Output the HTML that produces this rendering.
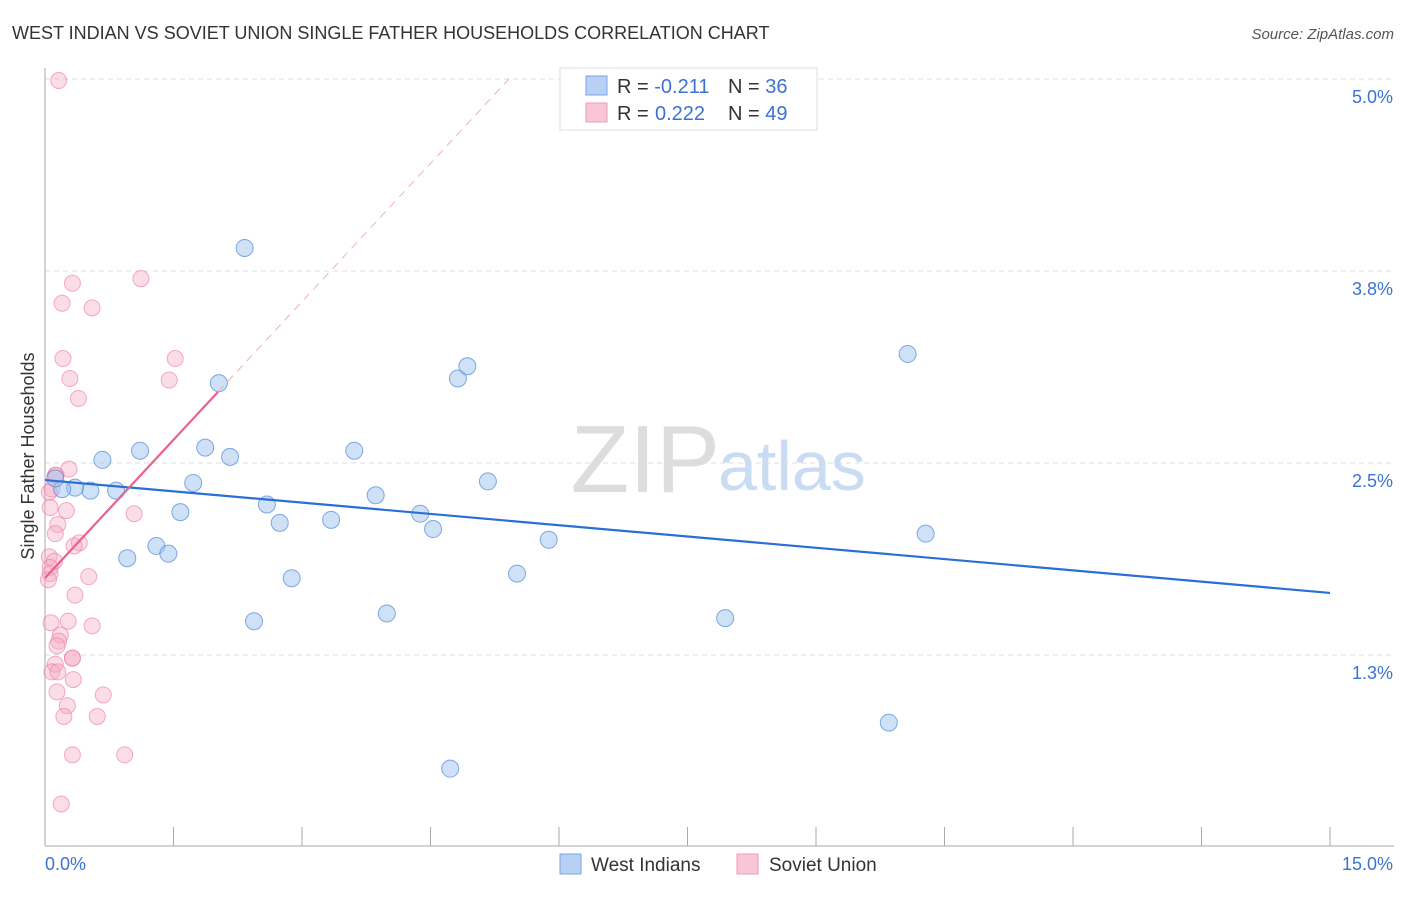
<!DOCTYPE html>
<html><head><meta charset="utf-8"><style>
body{margin:0;background:#fff;font-family:"Liberation Sans",sans-serif;}
svg text{font-family:"Liberation Sans",sans-serif;}
</style></head><body>
<svg width="1406" height="892">
<text x="12" y="39" font-size="18" fill="#333">WEST INDIAN VS SOVIET UNION SINGLE FATHER HOUSEHOLDS CORRELATION CHART</text>
<text x="1394" y="39" font-size="15" fill="#555" font-style="italic" text-anchor="end">Source: ZipAtlas.com</text>
<text x="720" y="492" font-size="96" fill="#ddd" text-anchor="end" font-family="Liberation Serif">ZIP</text>
<text x="718" y="490" font-size="70" fill="#c9dcf3">atlas</text>
<g id="grid"></g>
<g id="axes"></g>
<text transform="translate(34,456) rotate(-90)" font-size="18" fill="#333" text-anchor="middle">Single Father Households</text>
<g id="marks"></g>
<g>
<rect x="560" y="68" width="257" height="62" fill="#fff" stroke="#ddd"/>
<rect x="586" y="76" width="21" height="19" fill="#b8d0f3" stroke="#7aa5e6"/>
<rect x="586" y="103" width="21" height="19" fill="#f9c6d5" stroke="#ee9bb5"/>
<text x="617" y="93" font-size="20" fill="#333">R = <tspan fill="#3b72d4">-0.211</tspan><tspan x="728">N = </tspan><tspan fill="#3b72d4">36</tspan></text>
<text x="617" y="120" font-size="20" fill="#333">R = <tspan x="655" fill="#3b72d4">0.222</tspan><tspan x="728">N = </tspan><tspan fill="#3b72d4">49</tspan></text>
</g>
<g>
<rect x="560" y="854" width="21" height="20" fill="#b8d0f3" stroke="#7aa5e6"/>
<text x="591" y="871" font-size="19" fill="#333">West Indians</text>
<rect x="737" y="854" width="21" height="20" fill="#f9c6d5" stroke="#ee9bb5"/>
<text x="769" y="871" font-size="19" fill="#333">Soviet Union</text>
</g>
</svg>
<script>
const yTicks=[5.0,3.75,2.5,1.25];
const yTickLabels=["5.0%","3.8%","2.5%","1.3%"];
const xTickCount=10;
const xMin=0,xMax=15,yMin=0,yMax=5.0;
const westX=[2.33,1.11,0.67,1.87,2.16,1.73,1.58,0.83,0.53,0.35,0.20,0.12,2.59,2.74,0.96,1.30,1.44,2.88,2.44,3.34,3.61,3.86,3.99,4.38,4.53,4.82,4.93,5.17,5.51,5.88,7.94,10.07,10.28,9.85,4.73,2.03];
const westY=[3.90,2.58,2.52,2.60,2.54,2.37,2.18,2.32,2.32,2.34,2.33,2.40,2.23,2.11,1.88,1.96,1.91,1.75,1.47,2.13,2.58,2.29,1.52,2.17,2.07,3.05,3.13,2.38,1.78,2.00,1.49,3.21,2.04,0.81,0.51,3.02];
const sovX=[0.16,1.12,0.32,0.20,0.55,0.21,1.52,0.29,1.45,0.39,0.28,0.12,0.08,0.05,0.06,0.25,0.15,0.12,1.04,0.40,0.34,0.05,0.11,0.06,0.06,0.04,0.51,0.07,0.27,0.55,0.18,0.16,0.14,0.32,0.32,0.12,0.08,0.15,0.33,0.68,0.14,0.26,0.22,0.61,0.32,0.93,0.19,0.35,0.13];
const sovY=[4.99,3.70,3.67,3.54,3.51,3.18,3.18,3.05,3.04,2.92,2.46,2.42,2.33,2.31,2.21,2.19,2.10,2.04,2.17,1.98,1.96,1.89,1.86,1.82,1.78,1.74,1.76,1.46,1.47,1.44,1.38,1.34,1.31,1.23,1.23,1.19,1.14,1.14,1.09,0.99,1.01,0.92,0.85,0.85,0.60,0.60,0.28,1.64,2.42];
const westTrend=[2.389,1.654];
const sovTrend=[1.751,0.600];
const X0=45,X1=1330,Y0=847,Y1=79;
function sx(v){return X0+(v-xMin)/(xMax-xMin)*(X1-X0);}
function sy(v){return Y0-(v-yMin)/(yMax-yMin)*(Y0-Y1);}
const NS="http://www.w3.org/2000/svg";
function mk(p,t,a){const e=document.createElementNS(NS,t);for(const k in a)e.setAttribute(k,a[k]);p.appendChild(e);return e;}
const grid=document.getElementById('grid'),axes=document.getElementById('axes'),marks=document.getElementById('marks');
yTicks.forEach((t,i)=>{
 const l=mk(grid,'line',{x1:X0,x2:1394,y1:sy(t),y2:sy(t),stroke:'#ddd','stroke-dasharray':'5,4'});
 
 
 const tx=mk(axes,'text',{x:1393,y:sy(t)+24,'font-size':18,fill:'#3b72d4','text-anchor':'end'});
 tx.textContent=yTickLabels[i];
 
 
});
const ya=mk(axes,'line',{x1:X0,x2:X0,y1:68,y2:846,stroke:'#aaa'});


const xa=mk(axes,'line',{x1:X0,x2:1394,y1:846,y2:846,stroke:'#aaa'});


for(let i=0;i<=xTickCount;i++){
 const v=xMin+i*(xMax-xMin)/xTickCount;
 const t=mk(axes,'line',{x1:sx(v),x2:sx(v),y1:827,y2:846,stroke:'#aaa'});
 
 
}
const xl0=mk(axes,'text',{x:45,y:870,'font-size':18,fill:'#3b72d4'});xl0.textContent='0.0%';


const xl1=mk(axes,'text',{x:1393,y:870,'font-size':18,fill:'#3b72d4','text-anchor':'end'});xl1.textContent='15.0%';


sovX.forEach((x,i)=>{
 const c=mk(marks,'circle',{cx:sx(x),cy:sy(sovY[i]),r:8,fill:'rgba(246,170,195,0.4)',stroke:'rgba(236,120,160,0.6)'});
 
 
});
westX.forEach((x,i)=>{
 const c=mk(marks,'circle',{cx:sx(x),cy:sy(westY[i]),r:8.5,fill:'rgba(160,195,240,0.5)',stroke:'rgba(80,135,215,0.7)'});
 
 
});
const wl=mk(marks,'line',{x1:sx(xMin),y1:sy(westTrend[0]),x2:sx(xMax),y2:sy(westTrend[1]),stroke:'#2a6fd6','stroke-width':2.2});


const sxEnd=2.02, xTop=(yMax-sovTrend[0])/sovTrend[1];
const sl=mk(marks,'line',{x1:sx(0),y1:sy(sovTrend[0]),x2:sx(sxEnd),y2:sy(sovTrend[0]+sovTrend[1]*sxEnd),stroke:'#e8628e','stroke-width':2.2});


const sd=mk(marks,'line',{x1:sx(sxEnd),y1:sy(sovTrend[0]+sovTrend[1]*sxEnd),x2:sx(xTop),y2:sy(yMax),stroke:'#f0b0c5','stroke-width':1,'stroke-dasharray':'8,6'});


</script>
</body></html>
